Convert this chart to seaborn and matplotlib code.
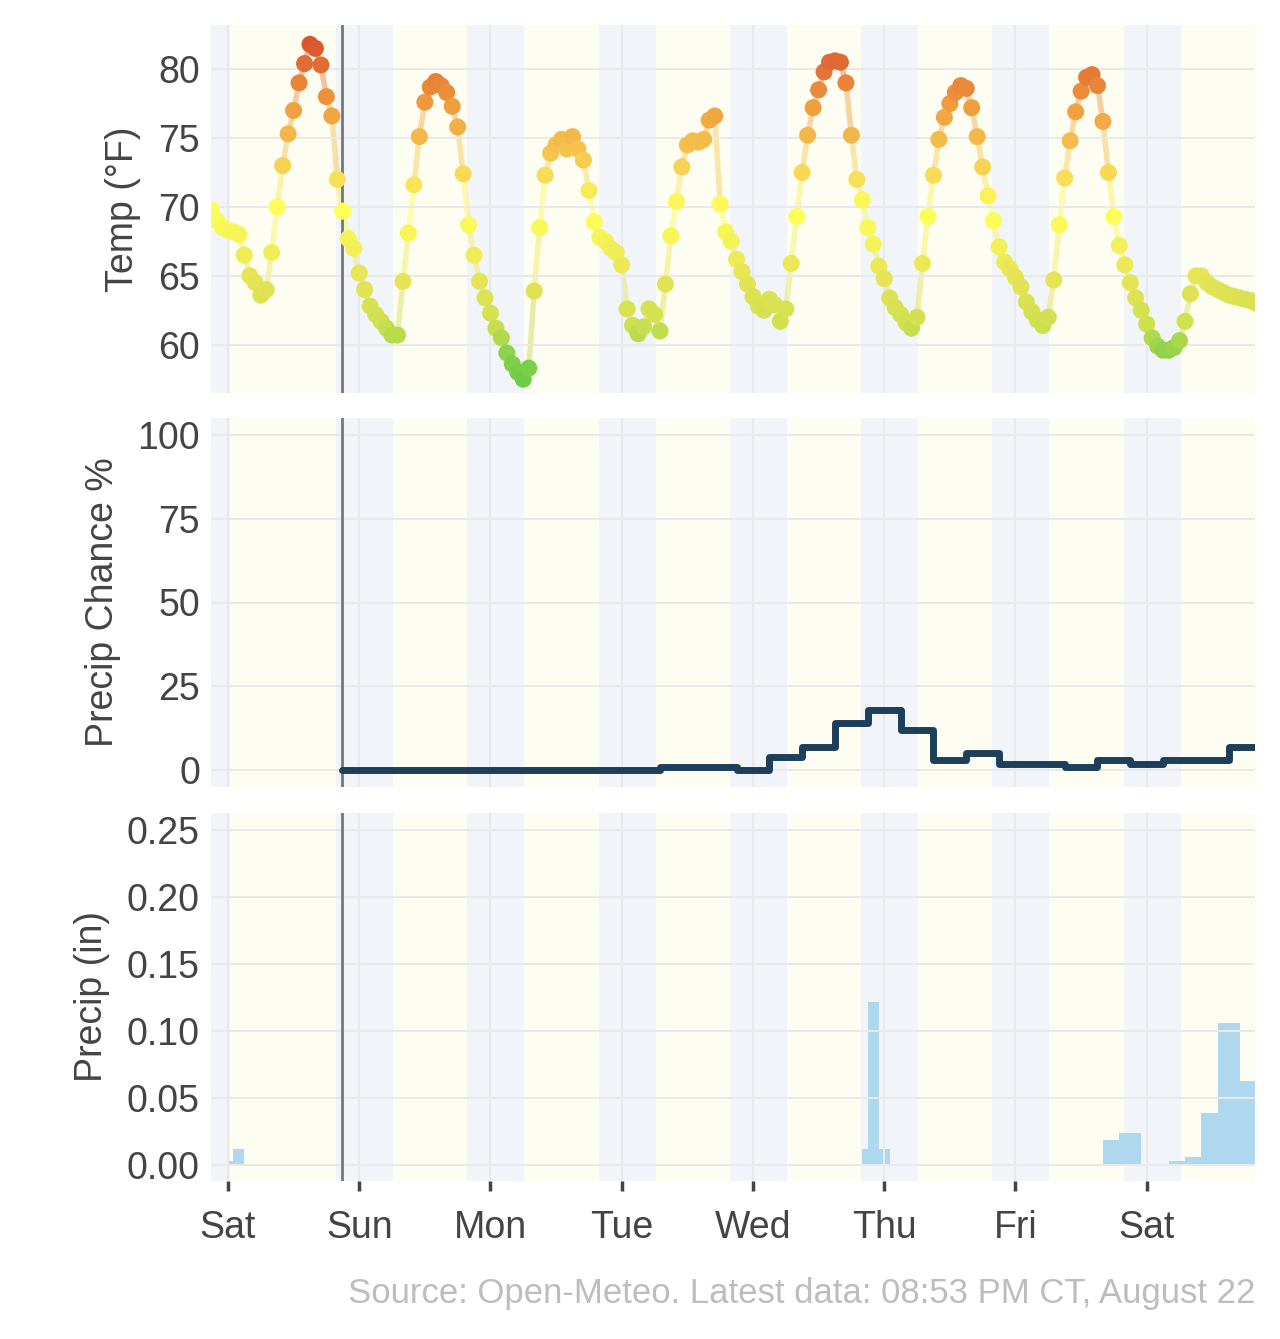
import numpy as np
import pandas as pd
import matplotlib
matplotlib.use("Agg")
import matplotlib.pyplot as plt
import seaborn as sns
from matplotlib.colors import LinearSegmentedColormap, Normalize
from matplotlib.collections import LineCollection

# hourly temps, hour 0 = Saturday 00:00
temp_start = -3
temps = [69.8, 69.0, 68.5,
    68.3, 68.2, 68.0, 66.5, 65.0, 64.5, 63.6, 64.0, 66.7, 70.0, 73.0, 75.3, 77.0, 79.0, 80.4, 81.8, 81.5, 80.3, 78.0, 76.6, 72.0, 69.7,
    67.7, 67.0, 65.2, 64.0, 62.8, 62.2, 61.7, 61.2, 60.7, 60.7, 64.6, 68.1, 71.6, 75.1, 77.6, 78.7, 79.1, 78.8, 78.3, 77.3, 75.8, 72.4, 68.7, 66.5,
    64.6, 63.4, 62.3, 61.2, 60.5, 59.4, 58.6, 58.0, 57.5, 58.3, 63.9, 68.5, 72.3, 73.9, 74.5, 74.9, 74.2, 75.1, 74.2, 73.4, 71.2, 68.9,
    67.8, 67.5, 67.0, 66.7, 65.8, 62.6, 61.4, 60.8, 61.3, 62.6, 62.2, 61.0, 64.4, 67.9, 70.4, 72.9, 74.5, 74.8, 74.7, 74.9, 76.3, 76.6,
    70.2, 68.2, 67.5, 66.2, 65.3, 64.4, 63.5, 62.8, 62.5, 63.3, 62.9, 61.7, 62.6, 65.9, 69.3, 72.5, 75.2, 77.2, 78.5, 79.8, 80.5, 80.6,
    80.5, 79.0, 75.2, 72.0, 70.5, 68.5, 67.3, 65.7, 64.8, 63.4, 62.7, 62.2, 61.6, 61.2, 62.0, 65.9, 69.3, 72.3, 74.9, 76.5, 77.5, 78.3,
    78.8, 78.6, 77.2, 75.1, 72.9, 70.8, 69.0, 67.1, 66.0, 65.5, 64.9, 64.2, 63.1, 62.4, 61.8, 61.4, 62.0, 64.7, 68.7, 72.1, 74.8, 76.9,
    78.4, 79.4, 79.6, 78.8, 76.2, 72.5, 69.3, 67.2, 65.8, 64.5, 63.4, 62.5, 61.5, 60.5, 59.9, 59.6, 59.6, 59.8, 60.3, 61.7, 63.7, 65.0,
    65.0, 64.5, 64.2, 64.0, 63.8, 63.6, 63.5, 63.4, 63.3, 63.2, 63.0]
temp_hours = np.arange(temp_start, temp_start + len(temps))

# precip chance steps (start hour, value), from "now"
now_h = 20.88
pop_hours = [now_h, 79, 93, 99, 105, 111, 117, 123, 129, 135, 141, 153, 159, 165, 171, 183, 187.8]
pop_vals = [0, 1, 0, 4, 7, 14, 18, 12, 3, 5, 2, 1, 3, 2, 3, 7, 7]

# precip amounts (hour, inches)
rain_hours = [0, 1, 2, 116, 117, 118, 119, 120, 160, 161, 162, 163, 164, 165, 166,
              172, 173, 174, 175, 176, 177, 178, 179, 180, 181, 182, 183, 184, 185, 186, 187]
rain_vals = [0.003, 0.012, 0.012, 0.012, 0.122, 0.122, 0.012, 0.012, 0.019, 0.019, 0.019, 0.024, 0.024, 0.024, 0.024,
             0.003, 0.003, 0.003, 0.006, 0.006, 0.006, 0.039, 0.039, 0.039, 0.106, 0.106, 0.106, 0.106, 0.063, 0.063, 0.063]

day_labels = ["Sat", "Sun", "Mon", "Tue", "Wed", "Thu", "Fri", "Sat"]
x_lo, x_hi = -3.1, 187.8

sns.set_theme(style="whitegrid")
plt.rcParams['font.family'] = ['Liberation Sans', 'DejaVu Sans']

fig = plt.figure(figsize=(12.8, 13.39), dpi=100)
W, H = 1280, 1339
def add_ax(top, bot):
    return fig.add_axes([211 / W, 1 - bot / H, (1255 - 211) / W, (bot - top) / H])
ax1 = add_ax(25, 393)
ax2 = add_ax(418, 787)
ax3 = add_ax(813, 1181)

cmap = LinearSegmentedColormap.from_list("t", [(0, "#6fcc45"), (0.08, "#8fd24a"), (0.16, "#cfe04f"),
                                                (0.3, "#e6e455"), (0.5, "#ffff5a"), (0.62, "#f7d555"),
                                                (0.82, "#ef9a3d"), (1, "#d9532f")])
norm = Normalize(57.5, 82)

for ax in (ax1, ax2, ax3):
    ax.set_facecolor("white")
    ax.axvspan(x_lo, x_hi, color="#fdfdf2", zorder=0)
    starts = [-10] + [19.8 + 24 * d for d in range(8)]
    for s in starts:
        ax.axvspan(max(s, x_lo), min(s + 10.4, x_hi), color="#f1f4f8", zorder=0.1, lw=0)
    ax.set_xlim(x_lo, x_hi)
    ax.set_xticks(np.arange(0, 169, 24))
    ax.grid(True, color="#e9e9e9", lw=1.5, zorder=0.2)
    ax.set_axisbelow(False)
    ax.axvline(now_h, color="#777777", lw=2, zorder=3)
    for sp in ax.spines.values():
        sp.set_visible(False)
    ax.tick_params(axis="y", labelsize=27, colors="#444444", length=0, pad=8)
    ax.yaxis.label.set_color("#444444")

# temperature
pts = np.column_stack([temp_hours, temps])
segs = np.stack([pts[:-1], pts[1:]], axis=1)
lc = LineCollection(segs, colors=cmap(norm((np.array(temps[:-1]) + np.array(temps[1:])) / 2)),
                    lw=4, alpha=0.45, zorder=2)
ax1.add_collection(lc)
df_t = pd.DataFrame({"hour": temp_hours, "temp": temps})
sns.scatterplot(data=df_t, x="hour", y="temp", hue="temp", palette=cmap, hue_norm=norm,
                s=150, linewidth=0, legend=False, ax=ax1, zorder=4)
ax1.set_ylim(56.5, 83.2)
ax1.set_yticks([60, 65, 70, 75, 80])
ax1.set_ylabel("Temp (°F)", fontsize=27, labelpad=12)

# precip chance
df_p = pd.DataFrame({"hour": pop_hours, "pop": pop_vals})
sns.lineplot(data=df_p, x="hour", y="pop", drawstyle="steps-post", color="#1e3f5a", lw=5, ax=ax2, zorder=4)
ax2.set_ylim(-5, 105)
ax2.set_yticks([0, 25, 50, 75, 100])
ax2.set_ylabel("Precip Chance %", fontsize=27, labelpad=12)

# precip amount
ax3.bar(rain_hours, rain_vals, width=1.0, align="edge", color="#aed8ee", lw=0, zorder=2.5)
ax3.set_ylim(-0.012, 0.263)
ax3.set_yticks([0, 0.05, 0.1, 0.15, 0.2, 0.25])
ax3.set_yticklabels(["0.00", "0.05", "0.10", "0.15", "0.20", "0.25"])
ax3.set_ylabel("Precip (in)", fontsize=27, labelpad=12)

for ax in (ax1, ax2):
    ax.set_xlabel("")
    ax.tick_params(axis="x", labelbottom=False, length=0)
ax3.set_xlabel("")
ax3.set_xticklabels(day_labels)
ax3.tick_params(axis="x", labelsize=27, colors="#444444", length=7, width=2.5, direction="out",
                bottom=True, pad=14)
for t in ax3.get_xticklines():
    t.set_color("#111111")

fig.text(1255 / W, 1 - 1293 / H, "Source: Open-Meteo. Latest data: 08:53 PM CT, August 22",
         ha="right", va="center", fontsize=25, color="#bdbdbd")

fig.savefig("out.png", dpi=100)
